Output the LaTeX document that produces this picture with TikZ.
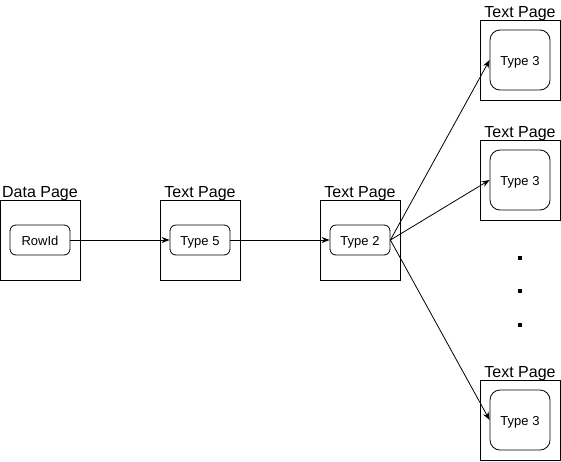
\documentclass[tikz,border=0pt]{standalone}
\usepackage{fontspec}
\setmainfont{Liberation Sans}
\usetikzlibrary{arrows.meta}
\begin{document}
\begin{tikzpicture}[x=1pt,y=-1pt,
  page/.style={draw=black,line width=1pt,minimum width=80pt,minimum height=80pt,inner sep=0pt},
  rec/.style={draw=black,line width=0.8pt,rounded corners=6pt,minimum width=60pt,minimum height=30pt,inner sep=0pt,text height=11pt,text depth=0pt,font=\fontsize{13pt}{15pt}\selectfont},
  bigrec/.style={rec,rounded corners=10pt,minimum height=60pt},
  lbl/.style={font=\fontsize{16pt}{18pt}\selectfont,inner sep=0pt,anchor=base},
  dotsq/.style={fill=black,minimum size=3.6pt,inner sep=0pt},
  conn/.style={line width=0.8pt,-{Stealth[length=8pt,width=6pt]}}]
\useasboundingbox (0,0) rectangle (561,461);
% left row
\node[page] (p1) at (40,240) {};
\node[rec] (rowid) at (40,240) {RowId};
\node[lbl] (l1) at (40,197) {Data Page};
\node[page] (p2) at (200,240) {};
\node[rec] (t5) at (200,240) {Type 5};
\node[lbl] (l2) at (200,197) {Text Page};
\node[page] (p3) at (360,240) {};
\node[rec] (t2) at (360,240) {Type 2};
\node[lbl] (l3) at (360,197) {Text Page};
% right column
\node[page] (p4) at (520,60) {};
\node[bigrec] (t3a) at (520,60) {Type 3};
\node[lbl] (l4) at (520,17) {Text Page};
\node[page] (p5) at (520,180) {};
\node[bigrec] (t3b) at (520,180) {Type 3};
\node[lbl] (l5) at (520,137) {Text Page};
\node[page] (p6) at (520,420) {};
\node[bigrec] (t3c) at (520,420) {Type 3};
\node[lbl] (l6) at (520,377) {Text Page};
% dots
\node[dotsq] (d1) at (520,258) {};
\node[dotsq] (d2) at (520,291) {};
\node[dotsq] (d3) at (520,325) {};
% connectors
\draw[conn] (rowid.east) -- (t5.west);
\draw[conn] (t5.east) -- (t2.west);
\draw[conn] (t2.east) -- (t3a.west);
\draw[conn] (t2.east) -- (t3b.west);
\draw[conn] (t2.east) -- (t3c.west);
\end{tikzpicture}
\end{document}
